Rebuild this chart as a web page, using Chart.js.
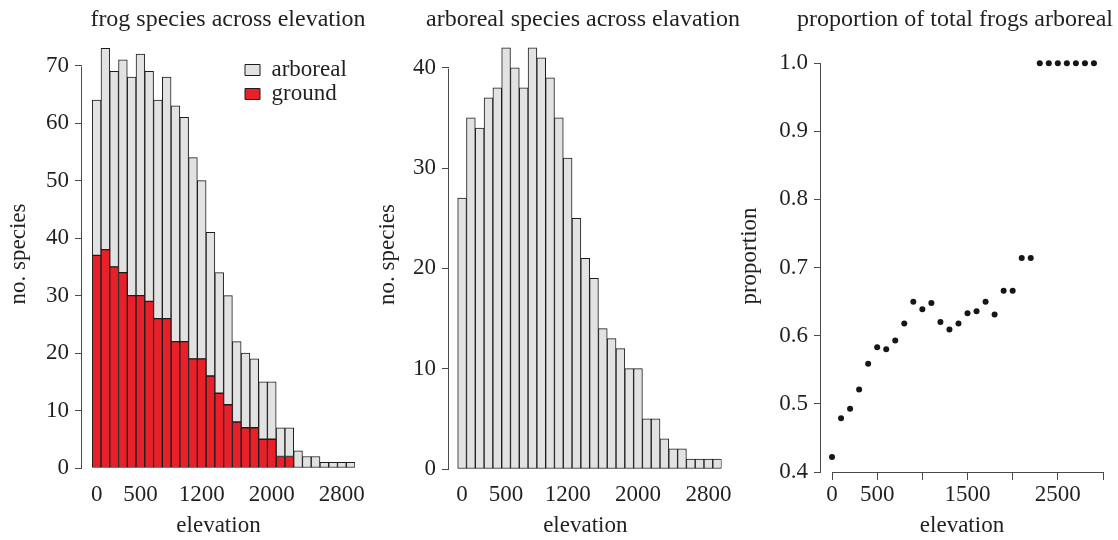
<!DOCTYPE html>
<html>
<head>
<meta charset="utf-8">
<title>frog species across elevation</title>
<script src="https://cdn.jsdelivr.net/npm/chart.js@4.4.1/dist/chart.umd.min.js"></script>
<style>
  html, body { margin: 0; padding: 0; background: #fff; }
  #wrap { position: relative; width: 1118px; height: 540px; overflow: hidden; }
  canvas { position: absolute; top: 0; }
</style>
</head>
<body>
<div id="wrap">
  <canvas id="frogs" width="380" height="540" style="left:0px"></canvas>
  <canvas id="arboreal" width="380" height="540" style="left:365px"></canvas>
  <canvas id="proportion" width="383" height="540" style="left:735px"></canvas>
</div>
<script>
// elevation bins (m), one bar / point per bin
const elevation = [0, 100, 200, 300, 400, 500, 600, 700, 800, 900,
  1000, 1100, 1200, 1300, 1400, 1500, 1600, 1700, 1800, 1900,
  2000, 2100, 2200, 2300, 2400, 2500, 2600, 2700, 2800, 2900];

const groundSpecies = [37, 38, 35, 34, 30, 30, 29, 26, 26, 22,
  22, 19, 19, 16, 13, 11, 8, 7, 7, 5,
  5, 2, 2, 0, 0, 0, 0, 0, 0, 0];

const arborealSpecies = [27, 35, 34, 37, 38, 42, 40, 38, 42, 41,
  39, 35, 31, 25, 21, 19, 14, 13, 12, 10,
  10, 5, 5, 3, 2, 2, 1, 1, 1, 1];

const proportionArboreal = [0.422, 0.479, 0.493, 0.521, 0.559, 0.583, 0.580, 0.593, 0.618, 0.650,
  0.639, 0.648, 0.620, 0.609, 0.618, 0.633, 0.636, 0.650, 0.631, 0.666,
  0.666, 0.714, 0.714, 1.0, 1.0, 1.0, 1.0, 1.0, 1.0, 1.0];

// tick labels
const barTickLabels = [0, 500, 1200, 2000, 2800];
const frogTicks = [0, 10, 20, 30, 40, 50, 60, 70];
const arborealTicks = [0, 10, 20, 30, 40];
const proportionTicks = [0.4, 0.5, 0.6, 0.7, 0.8, 0.9, 1.0];
const elevationTicks = [0, 500, 1000, 1500, 2000, 2500, 3000];
const elevationLabels = ['0', '500', '', '1500', '', '2500', ''];

const SERIF = "'Liberation Serif', 'Times New Roman', Times, serif";
const TEXT = '#231f20';
const AXIS = '#4a4a4a';
const EDGE = '#1c1c1c';
const RED = '#e8202a';
const GREY = '#e2e2e2';

Chart.defaults.font.family = SERIF;
Chart.defaults.font.size = 23;
Chart.defaults.color = TEXT;

// R style axis: line only from first to last tick
const rAxisLines = {
  id: 'rAxisLines',
  afterDraw(chart, args, opts) {
    const {ctx, chartArea} = chart;
    ctx.save();
    ctx.strokeStyle = AXIS;
    ctx.lineWidth = 1;
    (opts.axes || []).forEach(id => {
      const s = chart.scales[id];
      const a = s.getPixelForValue(s.ticks[0].value);
      const b = s.getPixelForValue(s.ticks[s.ticks.length - 1].value);
      ctx.beginPath();
      if (s.isHorizontal()) {
        const y = Math.round(chartArea.bottom) + 0.5;
        ctx.moveTo(Math.round(a) + 0.5, y);
        ctx.lineTo(Math.round(b) + 0.5, y);
      } else {
        const x = Math.round(chartArea.left) - 0.5;
        ctx.moveTo(x, Math.round(a) + 0.5);
        ctx.lineTo(x, Math.round(b) + 0.5);
      }
      ctx.stroke();
    });
    ctx.restore();
  }
};

// moves the title over the plot and the legend into the corner
const placement = {
  id: 'placement',
  afterLayout(chart, args, opts) {
    if (opts.titleCenter != null) {
      chart.titleBlock.left = opts.titleCenter - 200;
      chart.titleBlock.right = opts.titleCenter + 200;
    }
    if (opts.legendAt && chart.legend) {
      const lg = chart.legend;
      lg.left = opts.legendAt[0];
      lg.top = opts.legendAt[1];
      lg.right = lg.left + 140;
      lg.bottom = lg.top + 80;
    }
  }
};

const fixedTicks = values => scale => {
  scale.ticks = values.map(v => ({value: v}));
};

function yAxis(max, ticks, width, titleText, titlePad, fmt) {
  return {
    min: ticks[0],
    max: max,
    stacked: true,
    afterBuildTicks: fixedTicks(ticks),
    afterFit: s => { s.width = width; },
    border: {display: false},
    grid: {drawOnChartArea: false, drawTicks: true, tickLength: 7, color: AXIS, lineWidth: 1},
    ticks: {padding: 6, autoSkip: false, callback: fmt},
    title: {display: true, text: titleText, padding: {top: titlePad, bottom: 0}}
  };
}

function barX(min, height, pad) {
  return {
    type: 'linear',
    offset: false,
    min: min,
    max: 2950,
    stacked: true,
    afterBuildTicks: fixedTicks(barTickLabels),
    afterFit: s => { s.height = height; },
    border: {display: false},
    grid: {display: false, drawTicks: false, offset: false},
    ticks: {padding: pad, autoSkip: false, maxRotation: 0, minRotation: 0, callback: v => String(v)},
    title: {display: true, text: 'elevation', padding: 0}
  };
}

function titleOpts(text) {
  return {display: true, text: text, font: {size: 24, weight: 'normal'}, color: TEXT,
    padding: {top: 5, bottom: 6.2}};
}

const common = {
  responsive: false,
  devicePixelRatio: 1,
  animation: false,
  events: []
};

new Chart(document.getElementById('frogs'), {
  type: 'bar',
  data: {
    datasets: [
      {
        label: 'ground',
        data: elevation.map((e, i) => ({x: e, y: groundSpecies[i]})),
        backgroundColor: RED, borderColor: EDGE, borderWidth: 1, borderSkipped: false,
        barPercentage: 1, categoryPercentage: 1
      },
      {
        label: 'arboreal',
        data: elevation.map((e, i) => ({x: e, y: arborealSpecies[i]})),
        backgroundColor: GREY, borderColor: EDGE, borderWidth: 1, borderSkipped: false,
        barPercentage: 1, categoryPercentage: 1
      }
    ]
  },
  options: Object.assign({}, common, {
    layout: {padding: {left: 0, right: 25, top: 0, bottom: 0}},
    scales: {
      x: barX(-167, 72, 13.5),
      y: yAxis(74.47, frogTicks, 82, 'no. species', 5.2, v => String(v))
    },
    plugins: {
      title: titleOpts('frog species across elevation'),
      legend: {
        display: true, position: 'chartArea', align: 'start', reverse: true,
        labels: {boxWidth: 15, boxHeight: 11, padding: 1, color: TEXT, font: {size: 23}}
      },
      tooltip: {enabled: false},
      rAxisLines: {axes: ['y']},
      placement: {titleCenter: 228, legendAt: [244, 57.5]}
    }
  }),
  plugins: [rAxisLines, placement]
});

new Chart(document.getElementById('arboreal'), {
  type: 'bar',
  data: {
    datasets: [{
      label: 'arboreal',
      data: elevation.map((e, i) => ({x: e, y: arborealSpecies[i]})),
      backgroundColor: GREY, borderColor: EDGE, borderWidth: 1, borderSkipped: false,
      barPercentage: 1, categoryPercentage: 1
    }]
  },
  options: Object.assign({}, common, {
    layout: {padding: {left: 0, right: 23, top: 0, bottom: 0}},
    scales: {
      x: barX(-149, 71, 12.5),
      y: yAxis(42.77, arborealTicks, 84, 'no. species', 9.2, v => String(v))
    },
    plugins: {
      title: titleOpts('arboreal species across elavation'),
      legend: {display: false},
      tooltip: {enabled: false},
      rAxisLines: {axes: ['y']},
      placement: {titleCenter: 218}
    }
  }),
  plugins: [rAxisLines, placement]
});

new Chart(document.getElementById('proportion'), {
  type: 'scatter',
  data: {
    datasets: [{
      label: 'proportion',
      data: elevation.map((e, i) => ({x: e, y: proportionArboreal[i]})),
      backgroundColor: '#161616', borderWidth: 0, pointRadius: 3
    }]
  },
  options: Object.assign({}, common, {
    layout: {padding: {left: 0, right: 15, top: 0, bottom: 0}},
    scales: {
      x: {
        type: 'linear',
        min: -122,
        max: 3000,
        afterBuildTicks: fixedTicks(elevationTicks),
        afterFit: s => { s.height = 68; },
        border: {display: false},
        grid: {drawOnChartArea: false, drawTicks: true, tickLength: 8, color: AXIS, lineWidth: 1},
        ticks: {padding: 1, autoSkip: false, maxRotation: 0, minRotation: 0,
          callback: (v, i) => elevationLabels[i]},
        title: {display: true, text: 'elevation', padding: 0}
      },
      y: Object.assign(yAxis(1.034, proportionTicks, 86, 'proportion', 1.2, v => v.toFixed(1)), {stacked: false})
    },
    plugins: {
      title: titleOpts('proportion of total frogs arboreal'),
      legend: {display: false},
      tooltip: {enabled: false},
      rAxisLines: {axes: ['x', 'y']},
      placement: {titleCenter: 220}
    }
  }),
  plugins: [rAxisLines, placement]
});
</script>
</body>
</html>
